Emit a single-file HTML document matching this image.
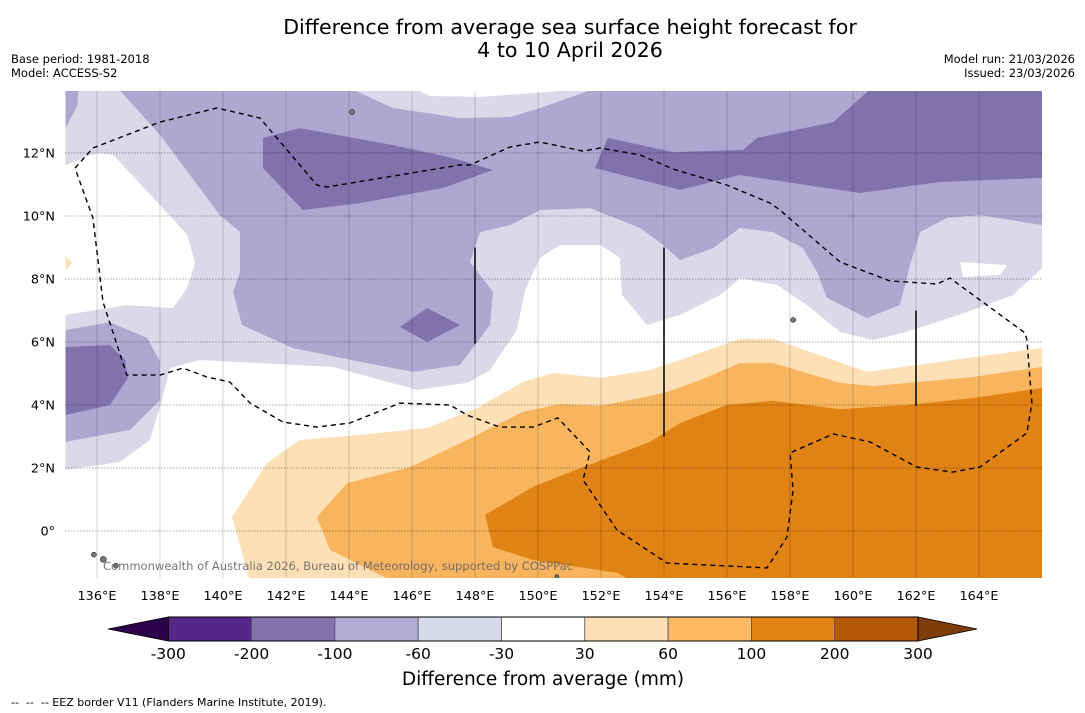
<!DOCTYPE html>
<html><head><meta charset="utf-8"><style>
html,body{margin:0;padding:0;background:#fff;}
svg{display:block;font-family:"DejaVu Sans","Liberation Sans",sans-serif;}
</style></head><body>
<svg id="chart" width="1085" height="713" viewBox="0 0 1085 713" xmlns="http://www.w3.org/2000/svg">
<text x="570" y="34" font-size="20.6" text-anchor="middle">Difference from average sea surface height forecast for</text>
<text x="570" y="57" font-size="20.6" text-anchor="middle">4 to 10 April 2026</text>
<text x="11" y="63" font-size="11.5">Base period: 1981-2018</text>
<text x="11" y="77" font-size="11.5">Model: ACCESS-S2</text>
<text x="1075" y="63" font-size="11.5" text-anchor="end">Model run: 21/03/2026</text>
<text x="1075" y="77" font-size="11.5" text-anchor="end">Issued: 23/03/2026</text>
<defs><clipPath id="mapclip"><rect x="65" y="91" width="977" height="487"/></clipPath></defs>
<g id="map" clip-path="url(#mapclip)"></g>
<g id="axes"></g>
<g id="cbar"></g>
<text x="543" y="685" font-size="18.5" text-anchor="middle">Difference from average (mm)</text>
<text x="11" y="706" font-size="11" style="white-space:pre" xml:space="preserve">--  --  -- EEZ border V11 (Flanders Marine Institute, 2019).</text>
</svg>
<script>
// ---- data ----
const lonTicks = [136,138,140,142,144,146,148,150,152,154,156,158,160,162,164];
const latTicks = [0,2,4,6,8,10,12];
const levels = [-300,-200,-100,-60,-30,30,60,100,200,300];
const levelColors = ["#542788","#8073ac","#b2abd2","#d8daeb","#ffffff","#fee0b6","#fdb863","#e08214","#b35806"];
const underColor = "#2d004b";
const overColor = "#7f3b08";
// contour polygons [lon, lat]
const lightPurple = [[135,14.1],[166,14.1],[166,8.35],[165.08,7.49],[163.62,6.95],[161.71,6.32],[160.63,6.06],[159.59,6.32],[158.54,7.17],[157.59,7.81],[156.41,8.03],[155.78,7.49],[154.51,6.86],[153.46,6.54],[152.67,7.49],[152.6,8.67],[151.97,9.08],[150.7,9.08],[150.06,8.67],[149.59,7.65],[149.33,6.38],[148.48,5.11],[147.75,4.7],[146.16,4.48],[143.49,5.21],[139.27,5.43],[138.32,5.17],[138.06,4.16],[137.68,2.89],[136.73,2.19],[135,1.94]];
const whiteLeft = [[135,11.62],[136.0,12.0],[136.51,11.94],[138.0,10.35],[138.86,9.4],[139.11,8.51],[138.86,7.71],[138.41,7.08],[136.95,7.17],[135,6.86]];
const mediumMain = [[136.63,14.1],[138.0,12.57],[139.9,10.03],[140.54,9.49],[140.54,8.22],[140.32,7.59],[140.6,6.54],[142.22,5.81],[144.35,5.37],[146.03,5.05],[147.52,5.27],[148.48,6.54],[148.57,7.59],[147.84,8.54],[148.16,9.49],[149.11,9.71],[150.06,10.19],[151.65,10.25],[153.24,9.62],[153.97,9.08],[154.51,8.6],[155.56,8.98],[156.41,9.62],[157.46,9.49],[158.41,8.98],[158.86,8.22],[159.17,7.4],[160.44,6.76],[161.49,7.17],[161.81,8.44],[162.13,9.49],[162.98,9.94],[164.03,10.03],[166,9.71],[166,14.1]];
const mediumTopLeft = [[135,14.1],[135.41,14.1],[135.38,13.52],[135,12.79]];
const mediumLeft = [[135,6.38],[136.41,6.63],[137.59,6.13],[138.0,5.37],[138.0,4.16],[137.05,3.21],[135,2.83]];
const lightTop = [[143.94,14.1],[145.4,13.43],[147.52,13.11],[149.11,13.14],[150.06,13.43],[151.97,14.1]];
const whiteTop = [[145.94,14.1],[146.57,13.81],[148.16,13.78],[150.38,13.94],[151.65,14.1]];
const whiteRight = [[163.4,8.54],[164.89,8.44],[164.67,8.13],[163.49,8.06]];
const darkA = [[141.27,12.48],[142.44,12.79],[145.4,12.25],[147.3,11.84],[148.57,11.46],[146.98,10.89],[144.35,10.41],[142.54,10.19],[141.27,11.52]];
const darkB = [[145.62,6.48],[146.48,7.08],[147.52,6.54],[146.48,6.0]];
const darkC = [[135,5.84],[136.41,5.9],[136.89,5.43],[136.98,4.86],[136.41,4.0],[135,3.68]];
const darkD = [[152.22,12.48],[154.29,12.03],[156.51,12.1],[156.95,12.48],[159.37,12.98],[160.63,14.1],[166,14.1],[166,11.21],[162.76,11.08],[160.21,10.73],[156.41,11.3],[154.51,10.83],[151.81,11.52]];
const orange30 = [[140.29,0.44],[141.4,2.16],[142.44,2.89],[144.03,3.02],[146.48,3.27],[148.06,3.9],[149.52,4.73],[150.48,5.02],[151.97,4.86],[153.56,5.11],[155.14,5.65],[156.41,6.1],[157.46,6.1],[160.44,5.05],[162.76,5.37],[166,5.81],[166,-1.6],[140.86,-1.6]];
const orange60 = [[142.98,0.44],[143.94,1.52],[145.94,2.03],[147.75,2.89],[149.52,3.78],[150.7,4.03],[151.97,3.97],[153.24,4.22],[154.1,4.41],[155.14,4.79],[156.41,5.33],[157.46,5.33],[159.59,4.7],[160.63,4.6],[163.81,4.89],[166,5.21],[166,-1.6],[145.4,-1.6],[143.4,-0.6]];
const orange100 = [[148.32,0.51],[149.84,1.4],[151.43,2.03],[153.56,2.83],[154.51,3.43],[156.0,4.0],[157.46,4.13],[159.59,3.87],[161.71,4.0],[163.81,4.22],[166,4.54],[166,-1.6],[153.02,-1.6],[152.51,-1.33],[149.84,-0.92],[148.57,-0.51]];
const eezLine = [[135.3,11.52],[135.87,12.16],[138.0,12.98],[139.81,13.43],[141.17,13.11],[142.98,10.98],[143.3,10.92],[147.52,11.62],[147.84,11.62],[149.11,12.19],[150.06,12.35],[151.43,12.06],[151.97,12.16],[153.24,11.94],[154.29,11.49],[156.0,10.98],[157.37,10.41],[157.68,10.19],[159.59,8.54],[161.17,7.94],[162.67,7.84],[163.08,8.03],[165.46,6.29],[165.52,6.06],[165.68,4.06],[165.52,3.11],[164.03,2.03],[163.17,1.87],[162.03,2.03],[160.54,2.83],[159.37,3.08],[158.0,2.48],[158.1,1.3],[157.9,-0.19],[157.27,-1.17],[154.1,-1.02],[152.51,0.03],[151.43,1.62],[151.65,2.51],[150.63,3.59],[149.84,3.3],[148.79,3.3],[147.75,3.68],[147.21,4.0],[145.62,4.06],[144.03,3.43],[142.98,3.3],[141.9,3.46],[140.86,4.06],[140.22,4.73],[139.49,4.89],[138.73,5.17],[138.0,4.95],[136.95,4.95],[136.19,7.27],[135.87,9.94],[135.3,11.52]];
const boundarySegments = [[148,9.0,5.94],[154,9.0,3.0],[162,7.0,3.97]];
const islands = [[144.1,13.3,2.5],[135.9,-0.75,2.5],[136.2,-0.9,3],[136.6,-1.1,2.5],[158.1,6.7,2.5],[150.6,-1.45,2]];
const marker = [[135,8.5]];

// ---- axis functions ----
const x = lon => 65.5 + (lon - 135) * 31.5;
const y = lat => 531 - lat * 31.5;
const NS = "http://www.w3.org/2000/svg";
function mk(tag, attrs, parent){ const e=document.createElementNS(NS,tag); for(const k in attrs) e.setAttribute(k,attrs[k]); parent.appendChild(e); return e; }
const pts = arr => arr.map(p => x(p[0]).toFixed(1)+","+y(p[1]).toFixed(1)).join(" ");

const map = document.getElementById("map");
function poly(arr, fill, name){
  const e = mk("polygon", {points: pts(arr), fill: fill}, map);
  
  
  return e;
}
const mapFill = {l:"#d9d9ea", m:"#aea8d0", d:"#8073ad", o1:"#fde0b6", o2:"#f9b45e", o3:"#e08214"};
poly(lightPurple, mapFill.l, "contour-minus30");
poly(whiteLeft, "#ffffff", "neutral-area-west");
poly(mediumMain, mapFill.m, "contour-minus60-north");
poly(mediumTopLeft, mapFill.m, "contour-minus60-corner");
poly(mediumLeft, mapFill.m, "contour-minus60-west");
poly(lightTop, mapFill.l, "contour-minus30-top");
poly(whiteTop, "#ffffff", "neutral-area-top");
poly(whiteRight, "#ffffff", "neutral-area-east");
poly(darkA, mapFill.d, "contour-minus100-a");
poly(darkB, mapFill.d, "contour-minus100-b");
poly(darkC, mapFill.d, "contour-minus100-c");
poly(darkD, mapFill.d, "contour-minus100-d");
poly(orange30, mapFill.o1, "contour-plus30");
poly(orange60, mapFill.o2, "contour-plus60");
poly(orange100, mapFill.o3, "contour-plus100");
marker.forEach(m => {
  const e = mk("polygon", {points: `${x(m[0])},${y(m[1])-7} ${x(m[0])+7},${y(m[1])} ${x(m[0])},${y(m[1])+7}`, fill:"#fde0b6"}, map);
  
  
});

// gridlines
lonTicks.forEach(l => {
  const e = mk("line", {x1:x(l), x2:x(l), y1:91, y2:578, stroke:"#000", "stroke-opacity":"0.22", "stroke-width":"0.8"}, map);
  
  
});
latTicks.forEach(l => {
  const e = mk("line", {x1:65, x2:1042, y1:y(l), y2:y(l), stroke:"#000", "stroke-opacity":"0.45", "stroke-width":"0.8", "stroke-dasharray":"1.5,1.5"}, map);
  
  
});

// islands
islands.forEach(i => {
  const e = mk("circle", {cx:x(i[0]), cy:y(i[1]), r:i[2], fill:"#777", stroke:"#000", "stroke-width":"0.5"}, map);
  
  
});

// EEZ
const eez = mk("polyline", {points: pts(eezLine), fill:"none", stroke:"#000", "stroke-width":"1.4", "stroke-dasharray":"5,4"}, map);


boundarySegments.forEach(s => {
  const e = mk("line", {x1:x(s[0]), x2:x(s[0]), y1:y(s[1]), y2:y(s[2]), stroke:"#222", "stroke-width":"1.8"}, map);
  
  
});

// copyright
const cp = mk("text", {x:103, y:570, "font-size":"11.5", fill:"#666", "fill-opacity":"0.9", textLength:"470", lengthAdjust:"spacingAndGlyphs"}, map);
cp.textContent = "Commonwealth of Australia 2026, Bureau of Meteorology, supported by COSPPac";



// axes labels
const axes = document.getElementById("axes");
lonTicks.forEach(l => {
  const e = mk("text", {x:x(l), y:600, "font-size":"12.8", "text-anchor":"middle"}, axes);
  e.textContent = l + "°E";
  
  
});
latTicks.forEach(l => {
  const e = mk("text", {x:55, y:y(l)+4.5, "font-size":"12.8", "text-anchor":"end"}, axes);
  e.textContent = l === 0 ? "0°" : l + "°N";
  
  
});

// colorbar
const cb = document.getElementById("cbar");
const cbL = 168.3, cbW = 83.3, cbT = 617, cbH = 24;
const under = mk("polygon", {points:`108,${cbT+cbH/2} ${cbL},${cbT} ${cbL},${cbT+cbH}`, fill:underColor, stroke:"#000", "stroke-width":"0.8"}, cb);


const nB = levelColors.length;
const cbR = cbL + nB * cbW;
const over = mk("polygon", {points:`977,${cbT+cbH/2} ${cbR},${cbT} ${cbR},${cbT+cbH}`, fill:overColor, stroke:"#000", "stroke-width":"0.8"}, cb);


levelColors.forEach((c, i) => {
  const e = mk("rect", {x:cbL + i*cbW, y:cbT, width:cbW, height:cbH, fill:c, stroke:"#555", "stroke-width":"0.8"}, cb);
  
  
});
mk("rect", {x:cbL, y:cbT, width:cbR-cbL, height:cbH, fill:"none", stroke:"#000", "stroke-width":"1"}, cb);
levels.forEach((v, i) => {
  const e = mk("text", {x:cbL + i*cbW, y:659, "font-size":"15.5", "text-anchor":"middle"}, cb);
  e.textContent = v;
  
  
});
</script>
</body></html>
